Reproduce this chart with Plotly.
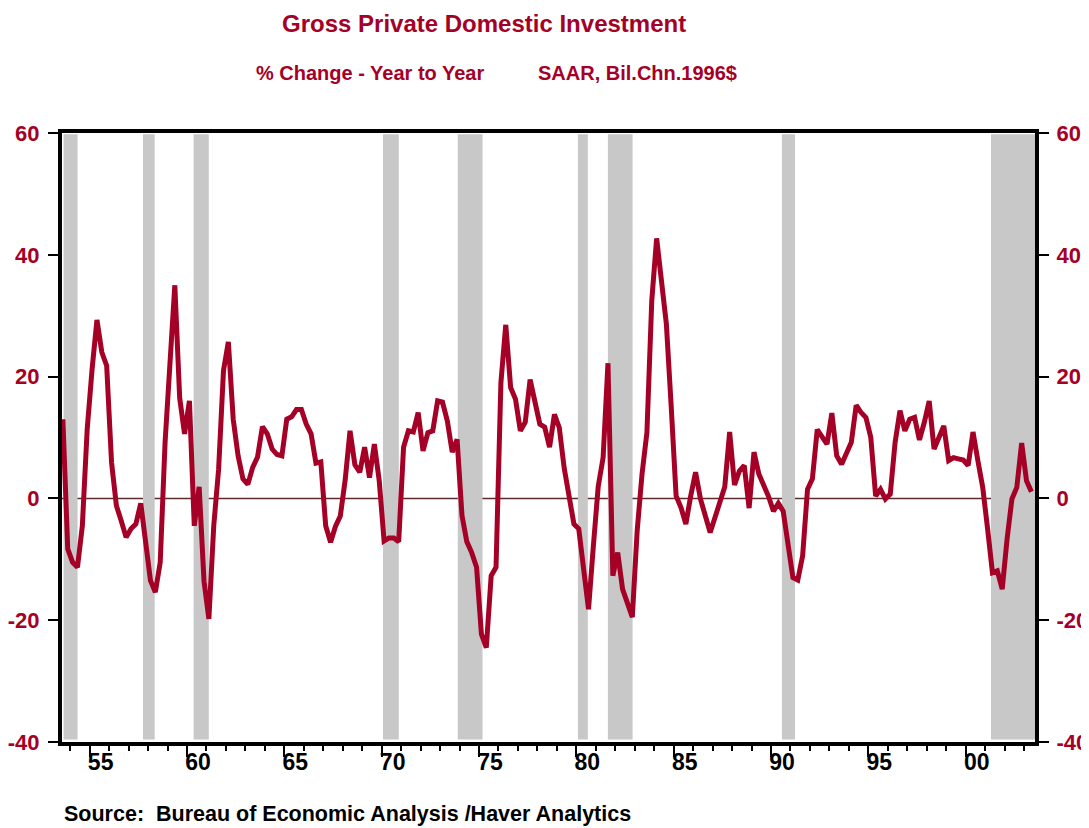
import plotly.graph_objects as go

# ---------------- data ----------------
start_year = 1953
start_quarter = 3          # first observation: 1953 Q3
pct_change = [
    13.0, -8.3, -10.5, -11.3, -4.5, 11.4, 21.2, 29.3, 24.0, 21.8,
    5.9, -1.2, -3.7, -6.4, -5.0, -4.2, -0.8, -7.5, -13.5, -15.4,
    -10.5, 9.2, 24.0, 35.0, 16.5, 10.6, 16.0, -4.5, 1.9, -13.6,
    -19.8, -4.5, 4.8, 21.0, 25.7, 13.0, 7.0, 3.2, 2.3, 5.1,
    6.8, 11.8, 10.6, 8.1, 7.2, 7.0, 13.0, 13.4, 14.6, 14.6,
    12.2, 10.6, 5.8, 6.0, -4.5, -7.2, -4.6, -2.9, 3.0, 11.1,
    5.5, 4.3, 8.4, 3.4, 8.9, 2.9, -7.0, -6.5, -6.5, -7.1,
    8.4, 11.1, 10.9, 14.1, 7.8, 10.8, 11.1, 16.0, 15.8, 12.7,
    7.6, 9.7, -2.8, -7.1, -8.9, -11.3, -22.3, -24.5, -12.7, -11.3,
    19.0, 28.5, 18.2, 16.3, 11.1, 12.5, 19.5, 15.5, 12.2, 11.7,
    8.4, 13.8, 11.6, 5.0, 0.5, -4.2, -5.0, -12.0, -18.2, -7.8,
    2.0, 6.7, 22.2, -12.7, -8.9, -14.9, -17.3, -19.5, -5.3, 4.0,
    10.8, 32.5, 42.7, 35.0, 28.6, 15.0, 0.4, -1.5, -4.2, 0.4,
    4.3, -0.1, -2.9, -5.6, -3.1, -0.7, 1.9, 10.9, 2.2, 4.5,
    5.4, -1.6, 7.6, 4.0, 2.3, 0.3, -2.1, -0.8, -2.1, -7.5,
    -13.0, -13.4, -9.4, 1.5, 3.2, 11.3, 10.0, 8.9, 14.0, 7.0,
    5.6, 7.6, 9.2, 15.3, 14.1, 13.3, 10.0, 0.4, 1.5, -0.1,
    0.7, 9.2, 14.4, 11.1, 13.0, 13.3, 9.6, 12.5, 16.0, 8.1,
    10.0, 11.9, 6.2, 6.7, 6.5, 6.3, 5.4, 10.9, 6.2, 1.8,
    -5.0, -12.2, -11.9, -14.9, -6.7, -0.1, 1.8, 9.1, 2.9, 1.1,
]

# recession periods (decimal years), shaded
recession_start = [1953.66, 1957.74, 1960.34, 1970.07, 1973.91, 1980.08, 1981.62, 1990.56, 2001.30]
recession_end = [1954.38, 1958.34, 1961.12, 1970.88, 1975.18, 1980.59, 1982.89, 1991.23, 2003.56]

x_tick_years = [1955, 1960, 1965, 1970, 1975, 1980, 1985, 1990, 1995, 2000]
x_tick_labels = ["55", "60", "65", "70", "75", "80", "85", "90", "95", "00"]
y_tick_values = [-40, -20, 0, 20, 40, 60]
y_tick_labels = ["-40", "-20", "0", "20", "40", "60"]

x_range = [1953.58, 2003.56]
y_range = [-40, 60]

# quarter positions (mid-quarter, decimal years)
t = []
for i in range(len(pct_change)):
    q_index = (start_quarter - 1) + i
    year = start_year + q_index // 4
    q = q_index % 4
    t.append(year + (q + 0.5) / 4.0)

RED = "#A50026"
FONT = "Liberation Sans, Arial, Helvetica, sans-serif"

fig = go.Figure()
fig.add_trace(go.Scatter(
    x=t, y=pct_change, mode="lines",
    line=dict(color=RED, width=5),
    hoverinfo="x+y", showlegend=False,
))
# invisible trace to bind the right-hand axis
fig.add_trace(go.Scatter(
    x=[t[0]], y=[0], yaxis="y2", mode="markers",
    marker=dict(opacity=0), hoverinfo="skip", showlegend=False,
))

shapes = []
for s, e in zip(recession_start, recession_end):
    shapes.append(dict(type="rect", xref="x", yref="y", x0=s, x1=e,
                       y0=-39.6, y1=59.8, fillcolor="#C8C8C8",
                       line=dict(width=0), layer="below"))
shapes.append(dict(type="line", xref="paper", yref="y", x0=0, x1=1, y0=0, y1=0,
                   line=dict(color="#5C2B2B", width=1.5), layer="below"))

annotations = [
    dict(text="Gross Private Domestic Investment", xref="paper", yref="paper",
         x=0.434, y=1.1806, xanchor="center", yanchor="middle", showarrow=False,
         font=dict(family=FONT, size=24, color=RED, weight="bold")),
    dict(text="% Change - Year to Year", xref="paper", yref="paper",
         x=0.317, y=1.098, xanchor="center", yanchor="middle", showarrow=False,
         font=dict(family=FONT, size=20, color=RED, weight="bold")),
    dict(text="SAAR, Bil.Chn.1996$", xref="paper", yref="paper",
         x=0.591, y=1.098, xanchor="center", yanchor="middle", showarrow=False,
         font=dict(family=FONT, size=20, color=RED, weight="bold")),
    dict(text="Source:  Bureau of Economic Analysis /Haver Analytics", xref="paper", yref="paper",
         x=0.0, y=-0.118, xanchor="left", yanchor="middle", showarrow=False,
         font=dict(family=FONT, size=21.5, color="black", weight="bold")),
]

# the page body adds an 8px offset, so the figure is 8px smaller than the window
fig.update_layout(
    width=1081, height=820,
    margin=dict(l=54, r=54, t=125, b=86, autoexpand=False),
    paper_bgcolor="white", plot_bgcolor="white",
    shapes=shapes, annotations=annotations,
    showlegend=False,
    xaxis=dict(
        range=x_range, showgrid=False, zeroline=False, automargin=False,
        showline=True, linecolor="black", linewidth=4, mirror=True,
        tickmode="array", tickvals=x_tick_years, ticktext=x_tick_labels,
        ticks="outside", ticklen=11, tickwidth=2, tickcolor="black",
        ticklabelshift=11, ticklabelstandoff=-15,
        tickfont=dict(family=FONT, size=23, color="black", weight="bold"),
        minor=dict(dtick=1, tick0=1955, ticks="outside", ticklen=5, tickwidth=1.5,
                   tickcolor="black", showgrid=False),
    ),
    yaxis=dict(
        range=y_range, showgrid=False, zeroline=False, automargin=False,
        showline=True, linecolor="black", linewidth=4, mirror="ticks",
        tickmode="array", tickvals=y_tick_values, ticktext=y_tick_labels,
        ticks="outside", ticklen=10, tickwidth=2, tickcolor="black",
        ticklabelstandoff=4,
        tickfont=dict(family=FONT, size=22, color=RED, weight="bold"),
    ),
    yaxis2=dict(
        range=y_range, overlaying="y", side="right", showgrid=False, zeroline=False,
        automargin=False, showline=False,
        tickmode="array", tickvals=y_tick_values, ticktext=y_tick_labels,
        ticks="outside", ticklen=10, tickwidth=1, tickcolor="rgba(0,0,0,0)",
        ticklabelstandoff=6,
        tickfont=dict(family=FONT, size=22, color=RED, weight="bold"),
    ),
)

fig.write_html("out.html")
